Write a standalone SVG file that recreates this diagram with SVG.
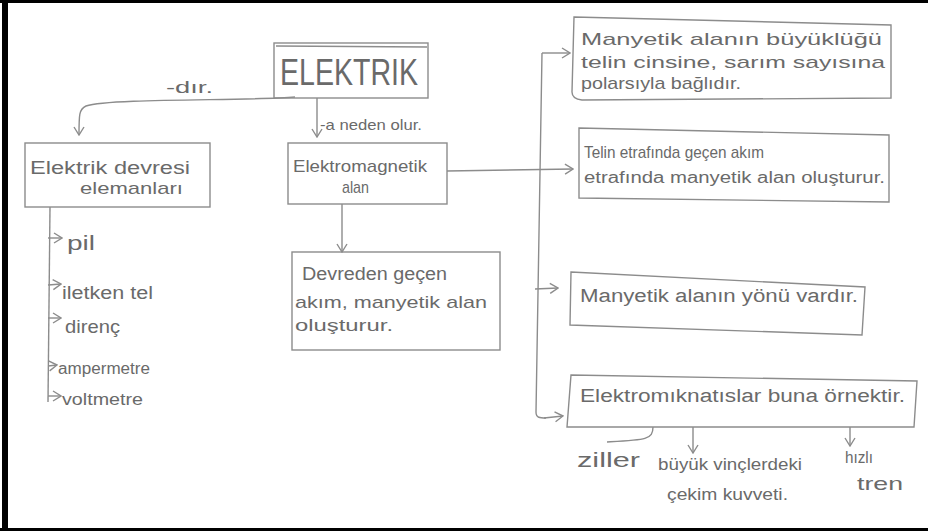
<svg xmlns="http://www.w3.org/2000/svg" width="928" height="531" viewBox="0 0 928 531">
<style>
.bx{fill:none;stroke:#8c8c8c;stroke-width:1.4}
.ln{fill:none;stroke:#8c8c8c;stroke-width:1.4}
.ar{marker-end:url(#ah)}
text{font-family:"Liberation Sans","DejaVu Sans",sans-serif;fill:#6a6a6a}
</style>
<defs>
<marker id="ah" markerWidth="10" markerHeight="12" refX="9" refY="6" orient="auto" markerUnits="userSpaceOnUse">
<path d="M1,1 L9,6 L1,11" fill="none" stroke="#8c8c8c" stroke-width="1.4"/>
</marker>
</defs>
<rect x="0" y="0" width="928" height="531" fill="#fff"/>
<rect x="0" y="0" width="928" height="3" fill="#000"/>
<rect x="2" y="0" width="6" height="531" fill="#000"/>
<rect x="0" y="528" width="928" height="3" fill="#000"/>

<g id="connectors">
<path class="ln ar" d="M295,97 C250,101 110,98 86,106 C79,109 79,115 79,135"/>
<path class="ln ar" d="M317,98 L317,137"/>
<path class="ln ar" d="M342,204 L342,252"/>
<path class="ln ar" d="M447,171 L573,169"/>
<path class="ln" d="M542,53 L536,412 C536,418 540,418 546,418"/>
<path class="ln ar" d="M542,53 L570,53"/>
<path class="ln ar" d="M535,289 L558,288"/>
<path class="ln ar" d="M544,418 L563,416"/>
<path class="ln" d="M50,207 L48,402"/>
<path class="ln ar" d="M48,238 L62,238"/>
<path class="ln ar" d="M48,285 L61,284"/>
<path class="ln ar" d="M48,318 L61,318"/>
<path class="ln ar" d="M48,366 L57,365"/>
<path class="ln ar" d="M48,396 L61,396"/>
<path class="ln" d="M653,427 C653,440 645,440 607,442"/>
<path class="ln ar" d="M693,427 L693,453"/>
<path class="ln ar" d="M850,427 L850,446"/>
</g>

<g id="label-dir"><text x="166" y="93" font-size="16" textLength="47" lengthAdjust="spacingAndGlyphs">-dır.</text></g>
<g id="label-neden"><text x="320" y="130" font-size="15" textLength="102" lengthAdjust="spacingAndGlyphs">-a neden olur.</text></g>

<g id="elektrik">
<rect class="bx" x="274" y="43" width="154" height="55"/>
<path class="ln" d="M276,46 L427,47"/>
<text x="280" y="85" font-size="36" textLength="138" lengthAdjust="spacingAndGlyphs">ELEKTRIK</text>
</g>

<g id="devre">
<rect class="bx" x="25" y="143" width="185" height="64"/>
<text x="30" y="174" font-size="18" textLength="160" lengthAdjust="spacingAndGlyphs">Elektrik devresi</text>
<text x="80" y="194" font-size="17" textLength="103" lengthAdjust="spacingAndGlyphs">elemanları</text>
</g>

<g id="items">
<text x="67" y="250" font-size="21" textLength="28" lengthAdjust="spacingAndGlyphs">pil</text>
<text x="62" y="299" font-size="18" textLength="91" lengthAdjust="spacingAndGlyphs">iletken tel</text>
<text x="65" y="333" font-size="19" textLength="55" lengthAdjust="spacingAndGlyphs">direnç</text>
<text x="58" y="374" font-size="16" textLength="92" lengthAdjust="spacingAndGlyphs">ampermetre</text>
<text x="62" y="405" font-size="17" textLength="81" lengthAdjust="spacingAndGlyphs">voltmetre</text>
</g>

<g id="elektromagnetik">
<rect class="bx" x="288" y="143" width="159" height="61"/>
<text x="293" y="172" font-size="17" textLength="134" lengthAdjust="spacingAndGlyphs">Elektromagnetik</text>
<text x="342" y="193" font-size="17" textLength="27" lengthAdjust="spacingAndGlyphs">alan</text>
</g>

<g id="devreden">
<rect class="bx" x="292" y="252" width="208" height="98"/>
<text x="302" y="280" font-size="18" textLength="145" lengthAdjust="spacingAndGlyphs">Devreden geçen</text>
<text x="295" y="308" font-size="17" textLength="192" lengthAdjust="spacingAndGlyphs">akım, manyetik alan</text>
<text x="295" y="331" font-size="16" textLength="98" lengthAdjust="spacingAndGlyphs">oluşturur.</text>
</g>

<g id="box1">
<path class="bx" d="M574,17 L891,25 L891,98 L582,100 Q572,99 572,92 Z"/>
<text x="581" y="45" font-size="17" textLength="301" lengthAdjust="spacingAndGlyphs">Manyetik alanın büyüklüğü</text>
<text x="581" y="68" font-size="17" textLength="304" lengthAdjust="spacingAndGlyphs">telin cinsine, sarım sayısına</text>
<text x="581" y="89" font-size="17" textLength="160" lengthAdjust="spacingAndGlyphs">polarsıyla bağlıdır.</text>
</g>

<g id="box2">
<path class="bx" d="M579,128 L889,135 L889,202 L579,198 Z"/>
<text x="584" y="158" font-size="17" textLength="180" lengthAdjust="spacingAndGlyphs">Telin etrafında geçen akım</text>
<text x="584" y="183" font-size="16" textLength="301" lengthAdjust="spacingAndGlyphs">etrafında manyetik alan oluşturur.</text>
</g>

<g id="box3">
<path class="bx" d="M571,272 L865,287 L862,335 L570,325 Z"/>
<text x="580" y="302" font-size="18" textLength="278" lengthAdjust="spacingAndGlyphs">Manyetik alanın yönü vardır.</text>
</g>

<g id="box4">
<path class="bx" d="M571,375 L917,381 L914,427 L567,427 Z"/>
<text x="580" y="402" font-size="18" textLength="325" lengthAdjust="spacingAndGlyphs">Elektromıknatıslar buna örnektir.</text>
</g>

<g id="ziller"><text x="577" y="467" font-size="20" textLength="63" lengthAdjust="spacingAndGlyphs">ziller</text></g>
<g id="vinc">
<text x="658" y="470" font-size="16" textLength="144" lengthAdjust="spacingAndGlyphs">büyük vinçlerdeki</text>
<text x="667" y="500" font-size="16" textLength="121" lengthAdjust="spacingAndGlyphs">çekim kuvveti.</text>
</g>
<g id="tren">
<text x="845" y="463" font-size="17" textLength="28" lengthAdjust="spacingAndGlyphs">hızlı</text>
<text x="857" y="490" font-size="19" textLength="46" lengthAdjust="spacingAndGlyphs">tren</text>
</g>
</svg>
